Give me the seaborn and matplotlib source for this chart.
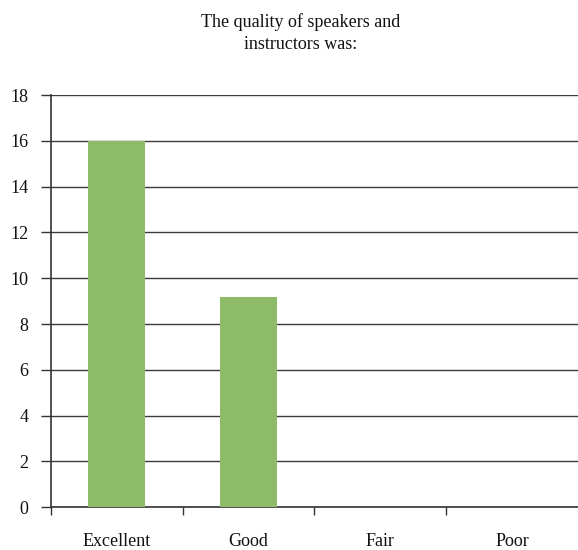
import matplotlib
matplotlib.use("Agg")
import matplotlib.pyplot as plt
import seaborn as sns
import pandas as pd
from matplotlib.ticker import FixedLocator

categories = ["Excellent", "Good", "Fair", "Poor"]
counts = [16, 9.2, 0, 0]
y_ticks = [0, 2, 4, 6, 8, 10, 12, 14, 16, 18]
title = "The quality of speakers and\ninstructors was:"

sns.set_theme(style="white")
plt.rcParams["font.family"] = ["Liberation Serif", "DejaVu Serif"]

df = pd.DataFrame({"category": categories, "count": counts})

fig = plt.figure(figsize=(5.78, 5.5), dpi=100)
ax = fig.add_axes([0.088, 0.078, 0.912, 0.749])

sns.barplot(data=df, x="category", y="count", color="#8DBB67", width=0.43,
            saturation=1, linewidth=0, ax=ax, zorder=3)

ax.set_ylim(0, 18)
ax.set_xlim(-0.5, 3.5)
ax.set_yticks(y_ticks)
ax.yaxis.grid(True, color="#3a3a3a", linewidth=1.0, zorder=0)
ax.set_axisbelow(True)
ax.tick_params(axis="y", which="major", length=7, width=1, color="#333333",
               labelsize=13, pad=9, left=True, labelcolor="#111111")
ax.tick_params(axis="x", which="major", length=0, labelsize=13, pad=19,
               labelcolor="#111111")
ax.xaxis.set_minor_locator(FixedLocator([-0.5, 0.5, 1.5, 2.5]))
ax.tick_params(axis="x", which="minor", length=6, width=1, color="#333333",
               bottom=True)
ax.set_xlabel("")
ax.set_ylabel("")

for s in ["top", "right"]:
    ax.spines[s].set_visible(False)
for s in ["left", "bottom"]:
    ax.spines[s].set_color("#333333")
    ax.spines[s].set_linewidth(1.2)

fig.text(0.52, 0.94, title, ha="center", va="center", fontsize=13,
         color="#111111", linespacing=1.45)

fig.savefig("out.png", dpi=100)
